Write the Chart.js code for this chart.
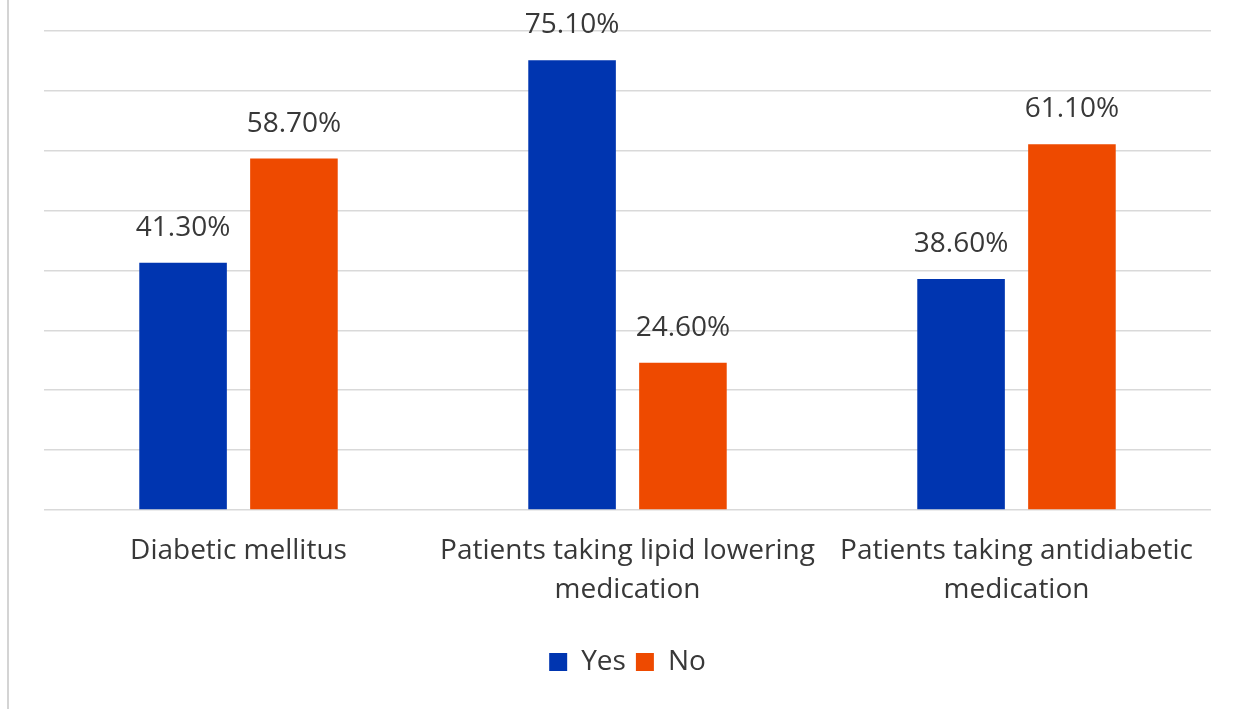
<!DOCTYPE html>
<html>
<head>
<meta charset="utf-8">
<script src="https://cdn.jsdelivr.net/npm/chart.js@4/dist/chart.umd.min.js"></script>
<style>
  html, body { margin: 0; padding: 0; background: #ffffff; }
  #wrap { position: relative; width: 1240px; height: 709px; }
  #edge { position: absolute; left: 7px; top: 0; width: 2px; height: 709px; background: #d4d4d4; }
  canvas { position: absolute; left: 0; top: 0; }
</style>
</head>
<body>
<div id="wrap">
  <canvas id="c" width="1240" height="709"></canvas>
  <div id="edge"></div>
</div>
<script>
const categories = [
  "Diabetic mellitus",
  ["Patients taking lipid lowering", "medication"],
  ["Patients taking antidiabetic", "medication"]
];
const yesValues = [41.3, 75.1, 38.6];
const noValues = [58.7, 24.6, 61.1];
const seriesNames = ["Yes", "No"];
const yMin = 0, yMax = 80, yStep = 10;

const FONT = "'Open Sans', sans-serif";
const TEXT = "#383838";

const valueLabels = {
  id: 'valueLabels',
  afterDatasetsDraw(chart) {
    const ctx = chart.ctx;
    ctx.save();
    ctx.font = "28px " + FONT;
    ctx.fillStyle = TEXT;
    ctx.textAlign = 'center';
    ctx.textBaseline = 'middle';
    chart.data.datasets.forEach((ds, i) => {
      const meta = chart.getDatasetMeta(i);
      meta.data.forEach((el, j) => {
        ctx.fillText(ds.data[j].toFixed(2) + '%', el.x, el.y - 35);
      });
    });
    ctx.restore();
  }
};

new Chart(document.getElementById('c'), {
  type: 'bar',
  data: {
    labels: categories,
    datasets: [
      { label: seriesNames[0], data: yesValues, backgroundColor: '#0035B0', categoryPercentage: 0.57, barPercentage: 0.79 },
      { label: seriesNames[1], data: noValues, backgroundColor: '#EE4A00', categoryPercentage: 0.57, barPercentage: 0.79 }
    ]
  },
  options: {
    responsive: false,
    animation: false,
    layout: { padding: { left: 44, right: 29, top: 31, bottom: 23 } },
    plugins: {
      legend: {
        position: 'bottom',
        labels: {
          font: { family: FONT, size: 28 },
          color: TEXT,
          boxWidth: 18,
          boxHeight: 18,
          padding: 10
        }
      },
      tooltip: { enabled: false }
    },
    scales: {
      x: {
        grid: { display: false },
        border: { display: false },
        ticks: {
          font: { family: FONT, size: 28, lineHeight: 1.38 },
          color: TEXT,
          padding: 14,
          maxRotation: 0,
          autoSkip: false
        },
        afterFit(scale) { scale.height = 128; }
      },
      y: {
        min: yMin,
        max: yMax,
        ticks: { display: false, stepSize: yStep },
        grid: { color: '#d9d9d9', lineWidth: 1.6, drawTicks: false },
        border: { display: false },
        afterFit(scale) { scale.width = 0; }
      }
    }
  },
  plugins: [valueLabels]
});
</script>
</body>
</html>
